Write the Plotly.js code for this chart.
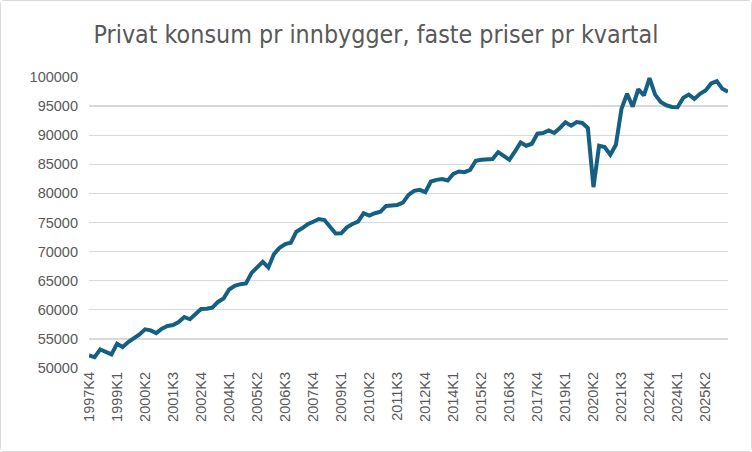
<!DOCTYPE html>
<html>
<head>
<meta charset="utf-8">
<script src="https://cdn.plot.ly/plotly-3.0.1.min.js"></script>
<style>
  body { margin: 0; background: #fff; }
  #chart {
    width: 752px; height: 452px;
    box-sizing: border-box;
    border: 1px solid #d9d9d9;
    border-radius: 4px;
  }
</style>
</head>
<body>
<div id="chart"></div>
<script>
// first quarter in the series
var start_year = 1997
var start_quarter = 4

// private consumption per inhabitant, fixed prices (NOK)
var konsum = [
  52160, 51870, 53190, 52730, 52330, 54170, 53600, 54460, 55030, 55770,
  56640, 56470, 56000, 56760, 57210, 57380, 57900, 58760, 58370, 59350,
  60140, 60200, 60380, 61350, 61930, 63480, 64110, 64400, 64520, 66350,
  67270, 68240, 67270, 69570, 70660, 71300, 71520, 73420, 74000, 74690,
  75140, 75600, 75430, 74280, 73100, 73140, 74170, 74740, 75140, 76590,
  76180, 76590, 76870, 77850, 78020, 78020, 78420, 79740, 80430, 80610,
  80210, 82040, 82330, 82450, 82210, 83370, 83760, 83650, 84050, 85600,
  85780, 85900, 85900, 87100, 86350, 85780, 87210, 88760, 88190, 88530,
  90260, 90380, 90830, 90380, 91240, 92210, 91640, 92270, 92100, 91240,
  81070, 88190, 87960, 86640, 88360, 94550, 97130, 94900, 97900, 96830,
  99800, 96980, 95700, 95140, 94860, 94800, 96410, 96980, 96240, 97100,
  97670, 98880, 99280, 97970, 97450
]

// quarter labels like 1997K4
var kvartal = []
var y = start_year, q = start_quarter
for (var i = 0; i < konsum.length; i++) {
  kvartal.push(y + 'K' + q)
  q++
  if (q > 4) { q = 1; y++ }
}

// every fifth quarter gets a label
var tick_labels = kvartal.filter(function (d, i) { return i % 5 == 0 })

var y_ticks = [50000, 55000, 60000, 65000, 70000, 75000, 80000, 85000, 90000, 95000, 100000]

var txt_color = '#595959'
var grid_color = '#d9d9d9'

var data = [{
  x: kvartal,
  y: konsum,
  type: 'scatter',
  mode: 'lines',
  line: { color: '#156082', width: 4, shape: 'linear' },
  hoverinfo: 'x+y',
  showlegend: false
}]

var layout = {
  width: 750,
  height: 450,
  margin: { l: 88, r: 23, t: 76, b: 83, pad: 0 },
  paper_bgcolor: '#ffffff',
  plot_bgcolor: '#ffffff',
  font: { family: 'Liberation Sans, Arial, sans-serif', color: txt_color },
  title: {
    text: 'Privat konsum pr innbygger, faste priser pr kvartal',
    font: { family: 'Liberation Sans Narrow, DejaVu Sans Condensed, sans-serif', size: 24.8, color: txt_color },
    x: 0.5,
    xanchor: 'center',
    y: 0.925,
    yanchor: 'middle'
  },
  xaxis: {
    type: 'category',
    range: [0, konsum.length - 1],
    tickmode: 'array',
    tickvals: tick_labels,
    ticktext: tick_labels,
    tickangle: -90,
    tickfont: { size: 14.5, color: txt_color },
    showgrid: false,
    zeroline: false,
    showline: false,
    ticks: '',
    fixedrange: true
  },
  yaxis: {
    range: [50000, 100000],
    tickmode: 'array',
    tickvals: y_ticks,
    ticktext: y_ticks.map(String),
    tickfont: { size: 14.5, color: txt_color },
    showgrid: true,
    gridcolor: grid_color,
    gridwidth: 1.3,
    zeroline: false,
    showline: false,
    ticks: '',
    ticklabelstandoff: 10,
    fixedrange: true
  }
}

var options = {
  displayModeBar: false,
  staticPlot: true
}

Plotly.newPlot('chart', data, layout, options)
</script>
</body>
</html>
